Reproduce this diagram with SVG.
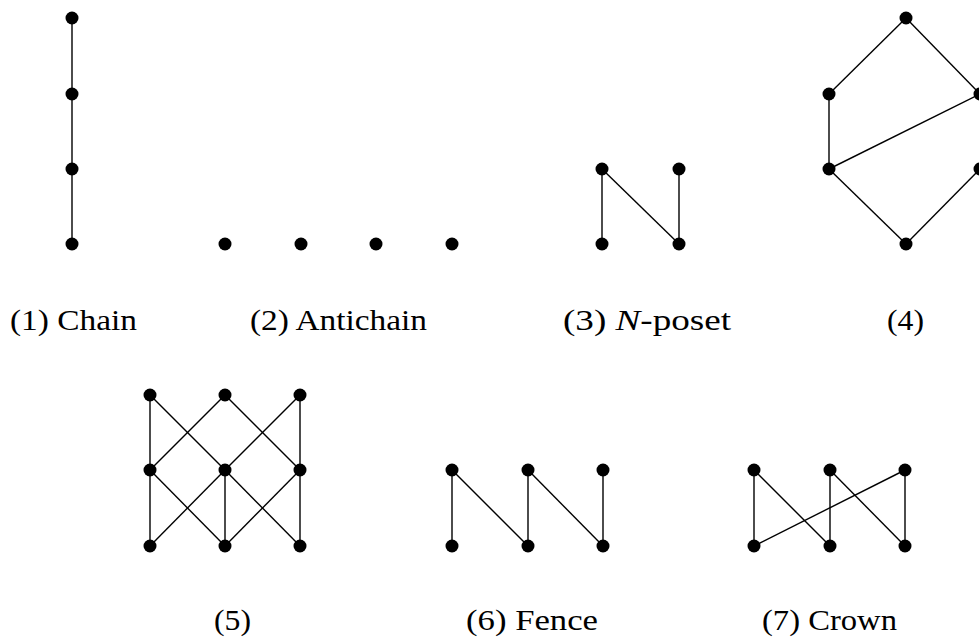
<svg xmlns="http://www.w3.org/2000/svg" width="979" height="639" viewBox="0 0 979 639">
  <style>
    .edge { stroke: #000; stroke-width: 1.4; fill: none; }
    .node circle { fill: #000; }
    .cap { font-family: "Liberation Serif", "DejaVu Serif", serif; font-size: 30px; fill: #000; }
  </style>
  <defs>
    <circle id="pt" r="6.5"/>
  </defs>
  <rect width="979" height="639" fill="#fff"/>

  <!-- connectors -->
  <g id="connectors" class="edge">
    <!-- (1) chain -->
    <line x1="72" y1="18" x2="72" y2="244"/>
    <!-- (3) N-poset -->
    <line x1="602" y1="169" x2="602" y2="244"/>
    <line x1="602" y1="169" x2="679" y2="244"/>
    <line x1="679" y1="169" x2="679" y2="244"/>
    <!-- (4) -->
    <line x1="906" y1="18" x2="829" y2="94"/>
    <line x1="906" y1="18" x2="980" y2="94"/>
    <line x1="829" y1="94" x2="829" y2="169"/>
    <line x1="829" y1="169" x2="980" y2="94"/>
    <line x1="829" y1="169" x2="906" y2="244"/>
    <line x1="906" y1="244" x2="980" y2="169"/>
    <!-- (5) -->
    <line x1="150" y1="395" x2="150" y2="470"/>
    <line x1="150" y1="395" x2="225" y2="470"/>
    <line x1="225" y1="395" x2="150" y2="470"/>
    <line x1="225" y1="395" x2="300" y2="470"/>
    <line x1="300" y1="395" x2="225" y2="470"/>
    <line x1="300" y1="395" x2="300" y2="470"/>
    <line x1="150" y1="470" x2="150" y2="546"/>
    <line x1="150" y1="470" x2="225" y2="546"/>
    <line x1="225" y1="470" x2="150" y2="546"/>
    <line x1="225" y1="470" x2="225" y2="546"/>
    <line x1="225" y1="470" x2="300" y2="546"/>
    <line x1="300" y1="470" x2="225" y2="546"/>
    <line x1="300" y1="470" x2="300" y2="546"/>
    <!-- (6) fence -->
    <line x1="452" y1="470" x2="452" y2="546"/>
    <line x1="452" y1="470" x2="528" y2="546"/>
    <line x1="528" y1="470" x2="528" y2="546"/>
    <line x1="528" y1="470" x2="603" y2="546"/>
    <line x1="603" y1="470" x2="603" y2="546"/>
    <!-- (7) crown -->
    <line x1="754" y1="470" x2="754" y2="546"/>
    <line x1="754" y1="470" x2="830" y2="546"/>
    <line x1="830" y1="470" x2="830" y2="546"/>
    <line x1="830" y1="470" x2="905" y2="546"/>
    <line x1="905" y1="470" x2="754" y2="546"/>
    <line x1="905" y1="470" x2="905" y2="546"/>
  </g>

  <!-- (1) chain -->
  <g id="chain" class="node">
    <use href="#pt" x="72" y="18"/>
    <use href="#pt" x="72" y="94"/>
    <use href="#pt" x="72" y="169"/>
    <use href="#pt" x="72" y="244"/>
  </g>
  <!-- (2) antichain -->
  <g id="antichain" class="node">
    <use href="#pt" x="225" y="244"/>
    <use href="#pt" x="301" y="244"/>
    <use href="#pt" x="376" y="244"/>
    <use href="#pt" x="452" y="244"/>
  </g>
  <!-- (3) N-poset -->
  <g id="n-poset" class="node">
    <use href="#pt" x="602" y="169"/>
    <use href="#pt" x="679" y="169"/>
    <use href="#pt" x="602" y="244"/>
    <use href="#pt" x="679" y="244"/>
  </g>
  <!-- (4) -->
  <g id="poset4" class="node">
    <use href="#pt" x="906" y="18"/>
    <use href="#pt" x="829" y="94"/>
    <use href="#pt" x="980" y="94"/>
    <use href="#pt" x="829" y="169"/>
    <use href="#pt" x="980" y="169"/>
    <use href="#pt" x="906" y="244"/>
  </g>
  <!-- (5) -->
  <g id="poset5" class="node">
    <use href="#pt" x="150" y="395"/>
    <use href="#pt" x="225" y="395"/>
    <use href="#pt" x="300" y="395"/>
    <use href="#pt" x="150" y="470"/>
    <use href="#pt" x="225" y="470"/>
    <use href="#pt" x="300" y="470"/>
    <use href="#pt" x="150" y="546"/>
    <use href="#pt" x="225" y="546"/>
    <use href="#pt" x="300" y="546"/>
  </g>
  <!-- (6) fence -->
  <g id="fence" class="node">
    <use href="#pt" x="452" y="470"/>
    <use href="#pt" x="528" y="470"/>
    <use href="#pt" x="603" y="470"/>
    <use href="#pt" x="452" y="546"/>
    <use href="#pt" x="528" y="546"/>
    <use href="#pt" x="603" y="546"/>
  </g>
  <!-- (7) crown -->
  <g id="crown" class="node">
    <use href="#pt" x="754" y="470"/>
    <use href="#pt" x="830" y="470"/>
    <use href="#pt" x="905" y="470"/>
    <use href="#pt" x="754" y="546"/>
    <use href="#pt" x="830" y="546"/>
    <use href="#pt" x="905" y="546"/>
  </g>

  <!-- captions -->
  <g id="captions" class="cap">
    <text x="10" y="330" textLength="127" lengthAdjust="spacingAndGlyphs">(1) Chain</text>
    <text x="250" y="330" textLength="177" lengthAdjust="spacingAndGlyphs">(2) Antichain</text>
    <text x="563" y="330" textLength="168" lengthAdjust="spacingAndGlyphs">(3)  <tspan font-style="italic">N</tspan>-poset</text>
    <text x="887" y="330" textLength="37" lengthAdjust="spacingAndGlyphs">(4)</text>
    <text x="214" y="630" textLength="37" lengthAdjust="spacingAndGlyphs">(5)</text>
    <text x="466" y="630" textLength="132" lengthAdjust="spacingAndGlyphs">(6) Fence</text>
    <text x="762" y="630" textLength="135" lengthAdjust="spacingAndGlyphs">(7) Crown</text>
  </g>
</svg>
